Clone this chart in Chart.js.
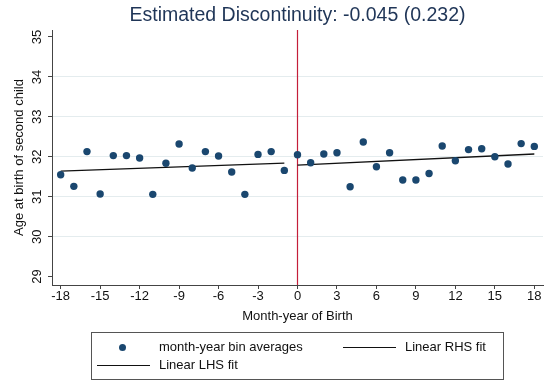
<!DOCTYPE html>
<html>
<head>
<meta charset="utf-8">
<script src="https://cdn.jsdelivr.net/npm/chart.js@4.4.0/dist/chart.umd.min.js"></script>
<style>
  html, body { margin: 0; padding: 0; background: #fff; }
  #wrap { position: relative; width: 547px; height: 382px; font-family: "Liberation Sans", Arial, sans-serif; }
  #legend { position: absolute; left: 91px; top: 332px; width: 413px; height: 48px; border: 1px solid #555; box-sizing: border-box; font-size: 13px; color: #111; }
  .txt { position: absolute; white-space: nowrap; line-height: 16px; }
  .dot { position: absolute; width: 7px; height: 7px; border-radius: 50%; background: #1a476f; }
  .ln { position: absolute; height: 0; border-top: 1.2px solid #111; }
</style>
</head>
<body>
<div id="wrap">
  <canvas id="rd-chart" width="547" height="382"></canvas>
  <div id="legend">
    <div class="dot" style="left:27px; top:11px;"></div>
    <div class="txt" style="left:67px; top:6px;">month-year bin averages</div>
    <div class="ln" style="left:251px; top:14px; width:53px;"></div>
    <div class="txt" style="left:313px; top:6px;">Linear RHS fit</div>
    <div class="ln" style="left:5px; top:32px; width:53px;"></div>
    <div class="txt" style="left:67px; top:24px;">Linear LHS fit</div>
  </div>
</div>
<script>
  // data
  const months = [-18, -17, -16, -15, -14, -13, -12, -11, -10, -9, -8, -7, -6, -5, -4, -3, -2, -1,
                  0, 1, 2, 3, 4, 5, 6, 7, 8, 9, 10, 11, 12, 13, 14, 15, 16, 17, 18];
  const binAverages = [31.55, 31.26, 32.13, 31.07, 32.03, 32.03, 31.97, 31.06, 31.84, 32.32, 31.72, 32.13,
                       32.02, 31.62, 31.06, 32.06, 32.13, 31.66,
                       32.05, 31.85, 32.07, 32.10, 31.25, 32.37, 31.75, 32.10, 31.42, 31.42, 31.58, 32.27,
                       31.90, 32.18, 32.20, 32.00, 31.82, 32.33, 32.26];
  const lhsFitX = [-18, -1];
  const lhsFitY = [31.64, 31.84];
  const rhsFitX = [0, 18];
  const rhsFitY = [31.79, 32.07];
  const xTicks = [-18, -15, -12, -9, -6, -3, 0, 3, 6, 9, 12, 15, 18];
  const yTicks = [29, 30, 31, 32, 33, 34, 35];
  const cutoff = 0;

  Chart.defaults.font.family = '"Liberation Sans", Arial, sans-serif';

  const cutoffLine = {
    id: 'cutoffLine',
    beforeDatasetsDraw(chart) {
      const { ctx, chartArea, scales } = chart;
      const x = scales.x.getPixelForValue(cutoff);
      ctx.save();
      ctx.strokeStyle = '#c41e3a';
      ctx.lineWidth = 1.2;
      ctx.beginPath();
      ctx.moveTo(x, chartArea.top);
      ctx.lineTo(x, chartArea.bottom);
      ctx.stroke();
      ctx.restore();
    }
  };

  // stata-style vertical y tick labels
  const yLabels = {
    id: 'yLabels',
    afterDraw(chart) {
      const { ctx } = chart;
      const y = chart.scales.y;
      ctx.save();
      ctx.font = '13px "Liberation Sans", Arial, sans-serif';
      ctx.fillStyle = '#111';
      ctx.textAlign = 'center';
      ctx.textBaseline = 'middle';
      y.ticks.forEach(t => {
        ctx.save();
        ctx.translate(y.right - 15, y.getPixelForValue(t.value));
        ctx.rotate(-Math.PI / 2);
        ctx.fillText(String(t.value), 0, 0);
        ctx.restore();
      });
      ctx.restore();
    }
  };

  const toPoints = (xs, ys) => xs.map((x, i) => ({ x: x, y: ys[i] }));

  new Chart(document.getElementById('rd-chart'), {
    type: 'scatter',
    data: {
      datasets: [
        {
          label: 'month-year bin averages',
          data: toPoints(months, binAverages),
          backgroundColor: '#1a476f',
          borderWidth: 0,
          pointRadius: 3.7,
          showLine: false
        },
        {
          label: 'Linear LHS fit',
          data: toPoints(lhsFitX, lhsFitY),
          showLine: true,
          borderColor: '#111',
          borderWidth: 1.3,
          pointRadius: 0
        },
        {
          label: 'Linear RHS fit',
          data: toPoints(rhsFitX, rhsFitY),
          showLine: true,
          borderColor: '#111',
          borderWidth: 1.3,
          pointRadius: 0
        }
      ]
    },
    options: {
      responsive: false,
      animation: false,
      devicePixelRatio: 1,
      layout: { padding: { left: 0, right: 4, top: 0, bottom: 55 } },
      plugins: {
        legend: { display: false },
        tooltip: { enabled: false },
        title: {
          display: true,
          text: 'Estimated Discontinuity: -0.045 (0.232)',
          fullSize: false,
          color: '#1f3557',
          font: { size: 19.5, weight: 'normal', lineHeight: 1.2 },
          padding: { top: 4.3, bottom: 2.3 }
        }
      },
      scales: {
        x: {
          type: 'linear',
          min: -18.66,
          max: 18.66,
          afterBuildTicks: s => { s.ticks = xTicks.map(v => ({ value: v })); },
          afterFit: s => { s.height = 42; },
          grid: { drawOnChartArea: false, drawTicks: true, tickLength: 4, tickColor: '#444' },
          border: { color: '#444', width: 1 },
          ticks: { color: '#111', font: { size: 13 }, padding: 0, maxRotation: 0, autoSkip: false },
          title: { display: true, text: 'Month-year of Birth', color: '#111', font: { size: 13 }, padding: { top: 0, bottom: 3 } }
        },
        y: {
          type: 'linear',
          min: 28.79,
          max: 35.175,
          afterBuildTicks: s => { s.ticks = yTicks.map(v => ({ value: v })); },
          afterFit: s => { s.width = 52; },
          grid: {
            color: c => (c.tick && c.tick.value > 29 && c.tick.value < 35) ? '#e4ecee' : 'rgba(0,0,0,0)',
            tickColor: '#444',
            tickLength: 4
          },
          border: { color: '#444', width: 1 },
          ticks: { display: false },
          title: { display: true, text: 'Age at birth of second child', color: '#111', font: { size: 13 }, padding: { top: 12, bottom: 0 } }
        }
      }
    },
    plugins: [cutoffLine, yLabels]
  });
</script>
</body>
</html>
